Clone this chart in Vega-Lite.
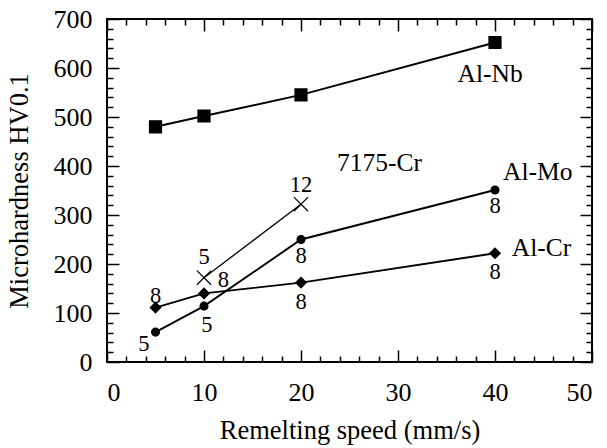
{
  "$schema": "https://vega.github.io/schema/vega-lite/v6.json",
  "width": 485,
  "height": 343,
  "autosize": {"type": "none"},
  "padding": {"left": 107, "top": 19, "right": 15, "bottom": 86},
  "background": "white",
  "config": {
    "view": {"stroke": "black", "strokeWidth": 2},
    "font": "Liberation Serif",
    "axis": {"domain": false, "grid": false, "labelFont": "Liberation Serif", "titleFont": "Liberation Serif", "labelFontSize": 26, "titleFontSize": 26.5, "titleFontWeight": "normal", "labelColor": "black", "titleColor": "black", "tickColor": "black", "tickWidth": 1.5, "labelOverlap": false}
  },
  "datasets": {
    "pts": [
      {"series": "Al-Nb", "x": 5, "y": 480},
      {"series": "Al-Nb", "x": 10, "y": 502},
      {"series": "Al-Nb", "x": 20, "y": 545},
      {"series": "Al-Nb", "x": 40, "y": 652},
      {"series": "Al-Mo", "x": 5, "y": 61},
      {"series": "Al-Mo", "x": 10, "y": 114},
      {"series": "Al-Mo", "x": 20, "y": 250},
      {"series": "Al-Mo", "x": 40, "y": 351},
      {"series": "Al-Cr", "x": 5, "y": 111},
      {"series": "Al-Cr", "x": 10, "y": 140},
      {"series": "Al-Cr", "x": 20, "y": 162},
      {"series": "Al-Cr", "x": 40, "y": 222},
      {"series": "7175-Cr", "x": 10, "y": 172},
      {"series": "7175-Cr", "x": 20, "y": 322}
    ],
    "nums": [
      {"t": "5", "x": 3.8, "y": 37},
      {"t": "5", "x": 10.3, "y": 75},
      {"t": "8", "x": 20, "y": 216},
      {"t": "8", "x": 40, "y": 318},
      {"t": "8", "x": 5, "y": 134},
      {"t": "8", "x": 12, "y": 167},
      {"t": "8", "x": 20, "y": 123},
      {"t": "8", "x": 40, "y": 184},
      {"t": "5", "x": 10, "y": 215},
      {"t": "12", "x": 20, "y": 362}
    ],
    "names": [
      {"t": "Al-Nb", "x": 39.5, "y": 588},
      {"t": "7175-Cr", "x": 28.1, "y": 406},
      {"t": "Al-Mo", "x": 44.4, "y": 388},
      {"t": "Al-Cr", "x": 44.8, "y": 233}
    ]
  },
  "resolve": {"axis": {"x": "independent", "y": "independent"}},
  "layer": [
    {
      "data": {"name": "pts"},
      "mark": {"type": "line", "color": "black"},
      "encoding": {
        "x": {"field": "x", "type": "quantitative", "scale": {"domain": [0, 50], "nice": false},
          "axis": {"orient": "bottom", "title": "Remelting speed (mm/s)", "values": [0,2,4,6,8,10,12,14,16,18,20,22,24,26,28,30,32,34,36,38,40,42,44,46,48,50],
            "labelExpr": "datum.value % 10 === 0 ? datum.label : ''",
            "tickSize": {"condition": {"test": "datum.value % 10 === 0", "value": -12}, "value": -6},
            "labelPadding": 29, "titlePadding": 6}},
        "y": {"field": "y", "type": "quantitative", "scale": {"domain": [0, 700], "nice": false},
          "axis": {"orient": "left", "title": "Microhardness HV0.1", "values": [0,20,40,60,80,100,120,140,160,180,200,220,240,260,280,300,320,340,360,380,400,420,440,460,480,500,520,540,560,580,600,620,640,660,680,700],
            "labelExpr": "datum.value % 100 === 0 ? datum.label : ''",
            "tickSize": {"condition": {"test": "datum.value % 100 === 0", "value": -12}, "value": -6},
            "labelPadding": 27, "titlePadding": 20}},
        "detail": {"field": "series"},
        "strokeWidth": {"field": "series", "scale": {"type": "ordinal", "domain": ["Al-Nb", "Al-Mo", "Al-Cr", "7175-Cr"], "range": [1.9, 1.9, 1.9, 1.3]}, "legend": null}
      }
    },
    {
      "data": {"name": "pts"},
      "mark": {"type": "point", "filled": true, "color": "black", "stroke": "black", "strokeWidth": 1.2, "opacity": 1},
      "encoding": {
        "x": {"field": "x", "type": "quantitative", "scale": {"domain": [0, 50], "nice": false},
          "axis": {"orient": "top", "title": null, "labels": false, "values": [0,2,4,6,8,10,12,14,16,18,20,22,24,26,28,30,32,34,36,38,40,42,44,46,48,50],
            "tickSize": {"condition": {"test": "datum.value % 10 === 0", "value": -12}, "value": -6}}},
        "y": {"field": "y", "type": "quantitative", "scale": {"domain": [0, 700], "nice": false},
          "axis": {"orient": "right", "title": null, "labels": false, "values": [0,20,40,60,80,100,120,140,160,180,200,220,240,260,280,300,320,340,360,380,400,420,440,460,480,500,520,540,560,580,600,620,640,660,680,700],
            "tickSize": {"condition": {"test": "datum.value % 100 === 0", "value": -12}, "value": -6}}},
        "shape": {"field": "series", "scale": {"domain": ["Al-Nb", "Al-Mo", "Al-Cr", "7175-Cr"], "range": ["square", "circle", "diamond", "M-1,-1L1,1M1,-1L-1,1"]}, "legend": null},
        "size": {"field": "series", "scale": {"type": "ordinal", "domain": ["Al-Nb", "Al-Mo", "Al-Cr", "7175-Cr"], "range": [144, 62, 110, 200]}, "legend": null}
      }
    },
    {
      "data": {"name": "nums"},
      "mark": {"type": "text", "font": "Liberation Serif", "fontSize": 22.5, "color": "black", "baseline": "middle", "align": "center"},
      "encoding": {
        "x": {"field": "x", "type": "quantitative", "axis": null},
        "y": {"field": "y", "type": "quantitative", "axis": null},
        "text": {"field": "t"}
      }
    },
    {
      "data": {"name": "names"},
      "mark": {"type": "text", "font": "Liberation Serif", "fontSize": 25.5, "color": "black", "baseline": "middle", "align": "center"},
      "encoding": {
        "x": {"field": "x", "type": "quantitative", "axis": null},
        "y": {"field": "y", "type": "quantitative", "axis": null},
        "text": {"field": "t"}
      }
    }
  ]
}
